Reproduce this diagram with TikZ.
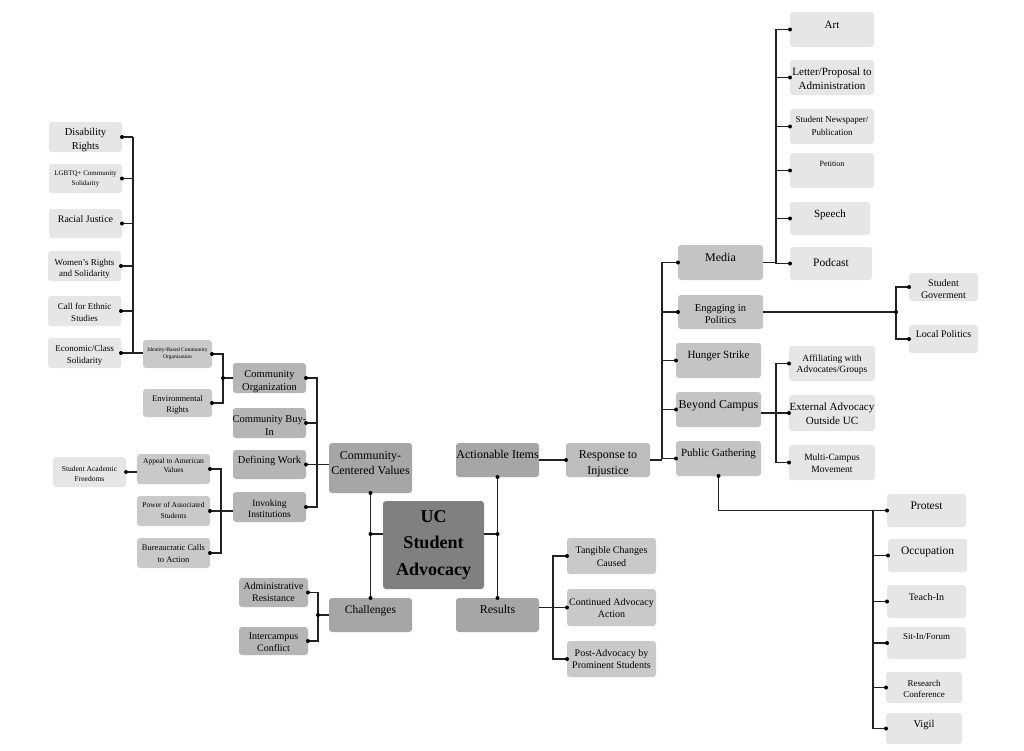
\documentclass[tikz,border=0pt]{standalone}
\usepackage{fontspec}
\setmainfont{Liberation Serif}
\definecolor{cL}{HTML}{E6E6E6}
\definecolor{cT}{HTML}{C9C9C9}
\definecolor{cS}{HTML}{B5B5B5}
\definecolor{cM}{HTML}{C4C4C4}
\definecolor{cR}{HTML}{BDBDBD}
\definecolor{cP}{HTML}{A6A6A6}
\definecolor{cU}{HTML}{808080}
\definecolor{cLine}{HTML}{222222}
\newcommand\fs[2]{\fontsize{#1}{#2}\selectfont}
% #1 style, #2 name, #3 x1, #4 y1, #5 x2, #6 y2, #7 font, #8 text, #9 pad
\newcommand\bx[9]{%
  \node[#1, minimum width={(#5)-(#3)}, minimum height={(#6)-(#4)}] (#2) at ({((#3)+(#5))/2},{((#4)+(#6))/2}) {};
  \node[txt, anchor=north, font=#7] (#2-t) at ([yshift={-(#9+1.8)*1pt}]#2.north) {#8};
}
\begin{document}
\begin{tikzpicture}[x=1pt,y=-1pt,
  box/.style={rectangle, rounded corners=3pt, inner sep=0pt, outer sep=0pt, draw=none},
  lt/.style={box, fill=cL},
  tb/.style={box, fill=cT},
  sb/.style={box, fill=cS},
  mb/.style={box, fill=cM},
  rb/.style={box, fill=cR},
  pb/.style={box, fill=cP},
  ub/.style={box, fill=cU},
  txt/.style={inner sep=0pt, outer sep=0pt, align=center, text=black},
  ln/.style={draw=cLine, line width=1.2pt},
  dotc/.style={fill=black}]
\useasboundingbox (0,0) rectangle (1024,750);
\fill[white] (0,0) rectangle (1024,750);

% ---- left column
\bx{lt}{disab}{49}{122}{122}{152}{\fs{10.5}{14}}{Disability\\Rights}{4}
\bx{lt}{lgbt}{49}{164}{122}{193}{\fs{7}{10}}{LGBTQ+ Community\\Solidarity}{5}
\bx{lt}{racial}{49}{209}{122}{238}{\fs{10}{12}}{Racial Justice}{5}
\bx{lt}{women}{48}{251}{121}{281}{\fs{9}{11.5}}{Women's Rights\\and Solidarity}{6}
\bx{lt}{ethnic}{48}{296}{121}{326}{\fs{9}{12}}{Call for Ethnic\\Studies}{5}
\bx{lt}{econ}{48}{338}{121}{368}{\fs{9}{12}}{Economic/Class\\Solidarity}{5}
\bx{tb}{ident}{143}{340}{212}{368}{\fs{5.5}{7}}{Identity-Based Community\\Organization}{5.5}
\bx{tb}{env}{143}{389}{212}{417}{\fs{8.5}{11}}{Environmental\\Rights}{5}
\bx{sb}{comorg}{233}{363}{306}{393}{\fs{10.5}{13}}{Community\\Organization}{5.5}
\bx{sb}{buyin}{233}{408}{306}{438}{\fs{10.5}{13}}{Community Buy-\\In}{5.5}
\bx{sb}{defining}{233}{450}{306}{479}{\fs{10.5}{13}}{Defining Work}{4.5}
\bx{sb}{invoking}{233}{492}{306}{522}{\fs{9.5}{11}}{Invoking\\Institutions}{6}
\bx{pb}{ccv}{329}{443}{412}{493}{\fs{12}{15}}{Community-\\Centered Values}{6.5}
\bx{tb}{appeal}{137}{454}{210}{484}{\fs{7.5}{9.5}}{Appeal to American\\Values}{2}
\bx{lt}{saf}{53}{457}{126}{487}{\fs{7.5}{10}}{Student Academic\\Freedoms}{7.5}
\bx{tb}{power}{137}{496}{210}{526}{\fs{7.5}{10.5}}{Power of Associated\\Students}{4.6}
\bx{tb}{bureau}{137}{538}{210}{568}{\fs{8.5}{12}}{Bureaucratic Calls\\to Action}{5}
\bx{sb}{admin}{239}{578}{308}{607}{\fs{10}{12.5}}{Administrative\\Resistance}{2.5}
\bx{sb}{inter}{239}{627}{308}{655}{\fs{10}{12}}{Intercampus\\Conflict}{4.5}
\bx{pb}{chal}{329}{598}{412}{632}{\fs{11.5}{14}}{Challenges}{5.8}
% ---- centre
\bx{ub}{uc}{383}{501}{484}{589}{\fs{18}{26.5}\bfseries}{UC\\Student\\Advocacy}{7.5}
\bx{pb}{act}{456}{443}{539}{477}{\fs{12}{14}}{Actionable Items}{5.6}
\bx{pb}{results}{456}{598}{539}{632}{\fs{12}{14}}{Results}{5.6}
\bx{rb}{resp}{566}{443}{650}{477}{\fs{12}{16}}{Response to\\Injustice}{5.6}
\bx{tb}{tang}{567}{538}{656}{574}{\fs{10}{13}}{Tangible Changes\\Caused}{6.5}
\bx{tb}{cont}{567}{589}{656}{626}{\fs{10}{12}}{Continued Advocacy\\Action}{7.5}
\bx{tb}{post}{567}{641}{656}{677}{\fs{10}{12}}{Post-Advocacy by\\Prominent Students}{6.5}
% ---- right
\bx{mb}{media}{678}{245}{763}{280}{\fs{12}{14}}{Media}{6.6}
\bx{mb}{eng}{678}{295}{763}{329}{\fs{10.5}{12.5}}{Engaging in\\Politics}{7.3}
\bx{mb}{hunger}{676}{343}{761}{378}{\fs{11}{13}}{Hunger Strike}{6}
\bx{mb}{beyond}{676}{392}{761}{427}{\fs{12}{14}}{Beyond Campus}{6.6}
\bx{mb}{public}{676}{441}{761}{476}{\fs{11}{13}}{Public Gathering}{6}
\bx{lt}{art}{790}{12}{874}{47}{\fs{11}{13}}{Art}{7}
\bx{lt}{letter}{790}{60}{874}{95}{\fs{11}{14}}{Letter/Proposal to\\Administration}{6}
\bx{lt}{news}{790}{109}{874}{144}{\fs{9}{13}}{Student Newspaper/\\Publication}{5}
\bx{lt}{petition}{790}{153}{874}{188}{\fs{8}{10}}{Petition}{6.4}
\bx{lt}{speech}{790}{202}{870}{235}{\fs{11}{13}}{Speech}{6}
\bx{lt}{podcast}{790}{247}{872}{280}{\fs{11.5}{13}}{Podcast}{9.8}
\bx{lt}{studgov}{909}{273}{978}{301}{\fs{10}{12.5}}{Student\\Goverment}{4.5}
\bx{lt}{local}{909}{325}{978}{353}{\fs{10}{12}}{Local Politics}{3.5}
\bx{lt}{affil}{789}{346}{875}{381}{\fs{9.5}{11.5}}{Affiliating with\\Advocates/Groups}{6.7}
\bx{lt}{ext}{789}{395}{875}{431}{\fs{11}{14}}{External Advocacy\\Outside UC}{6}
\bx{lt}{multi}{789}{445}{875}{480}{\fs{9.5}{12}}{Multi-Campus\\Movement}{6.7}
\bx{lt}{protest}{887}{494}{966}{527}{\fs{11.5}{13}}{Protest}{5.8}
\bx{lt}{occup}{888}{539}{967}{572}{\fs{11.5}{13}}{Occupation}{5.8}
\bx{lt}{teach}{887}{585}{966}{618}{\fs{10}{12}}{Teach-In}{6.5}
\bx{lt}{sitin}{887}{627}{966}{659}{\fs{9}{11}}{Sit-In/Forum}{5}
\bx{lt}{research}{886}{672}{962}{703}{\fs{9}{11.5}}{Research\\Conference}{6}
\bx{lt}{vigil}{886}{713}{962}{744}{\fs{10.5}{12}}{Vigil}{5.3}

% ---- connectors
% G1
\coordinate (b1) at (133,0);
\foreach \c in {disab,lgbt,racial,women,ethnic} \draw[ln] (\c.east) -- (\c.east -| b1);
\draw[ln] (disab.east -| b1) -- (econ.east -| b1);
\draw[ln] (econ.east) -- (econ.east -| ident.west);
\foreach \c in {disab,lgbt,racial,women,ethnic,econ} \fill[dotc] (\c.east) circle[radius=2pt];
% G2
\coordinate (b2) at (223,0);
\draw[ln] (comorg.west) -- (comorg.west -| b2);
\draw[ln] (ident.east) -| (b2 |- env.east) -- (env.east);
\fill[dotc] (ident.east) circle[radius=2pt] (env.east) circle[radius=2pt] (comorg.west -| b2) circle[radius=2pt];
% G3
\coordinate (b3) at (317,0);
\draw[ln] (comorg.east) -| (b3 |- invoking.east) -- (invoking.east);
\draw[ln] (buyin.east) -- (buyin.east -| b3);
\draw[ln] (defining.east) -- (defining.east -| ccv.west);
\foreach \c in {comorg,buyin,defining,invoking} \fill[dotc] (\c.east) circle[radius=2pt];
% G4
\coordinate (b4) at (221,0);
\draw[ln] (appeal.east) -| (b4 |- bureau.east) -- (bureau.east);
\draw[ln] (power.east) -- (power.east -| invoking.west);
\foreach \c in {appeal,power,bureau} \fill[dotc] (\c.east) circle[radius=2pt];
% G5
\draw[ln] (saf.east) -- (saf.east -| appeal.west);
\fill[dotc] (saf.east) circle[radius=2pt];
% G6
\draw[ln] (ccv.south) -- (chal.north);
\coordinate (ucl) at ([yshift=11pt]uc.west);
\draw[ln] (ucl) -- (ucl -| ccv.south);
\fill[dotc] (ccv.south) circle[radius=2pt] (chal.north) circle[radius=2pt] (ucl -| ccv.south) circle[radius=2pt];
% G7
\coordinate (b7) at (318,0);
\draw[ln] (admin.east) -| (b7 |- inter.east) -- (inter.east);
\draw[ln] (chal.west) -- (chal.west -| b7);
\fill[dotc] (admin.east) circle[radius=2pt] (inter.east) circle[radius=2pt] (chal.west -| b7) circle[radius=2pt];
% G8
\draw[ln] (act.south) -- (results.north);
\coordinate (ucr) at ([yshift=11pt]uc.east);
\draw[ln] (ucr) -- (ucr -| act.south);
\fill[dotc] (act.south) circle[radius=2pt] (results.north) circle[radius=2pt] (ucr -| act.south) circle[radius=2pt];
% G9
\draw[ln] (act.east) -- (resp.west);
\fill[dotc] (resp.west) circle[radius=2pt];
% G10
\coordinate (b10) at (553,0);
\draw[ln] (tang.west) -| (b10 |- post.west) -- (post.west);
\draw[ln] (cont.west) -- (cont.west -| results.east);
\foreach \c in {tang,cont,post} \fill[dotc] (\c.west) circle[radius=2pt];
% G11
\coordinate (b11) at (662,0);
\draw[ln] (media.west) -| (b11 |- public.west) -- (public.west);
\foreach \c in {eng,hunger,beyond} \draw[ln] (\c.west) -- (\c.west -| b11);
\draw[ln] (resp.east) -- (resp.east -| b11);
\foreach \c in {media,eng,hunger,beyond,public} \fill[dotc] (\c.west) circle[radius=2pt];
% G12
\coordinate (b12) at (776,0);
\draw[ln] (art.west) -| (b12 |- podcast.west) -- (podcast.west);
\foreach \c in {letter,news,petition,speech} \draw[ln] (\c.west) -- (\c.west -| b12);
\draw[ln] (media.east) -- (media.east -| b12);
\foreach \c in {art,letter,news,petition,speech,podcast} \fill[dotc] (\c.west) circle[radius=2pt];
% G13
\coordinate (b13) at (896,0);
\draw[ln] (studgov.west) -| (b13 |- local.west) -- (local.west);
\draw[ln] (eng.east) -- (eng.east -| b13);
\fill[dotc] (studgov.west) circle[radius=2pt] (local.west) circle[radius=2pt] (eng.east -| b13) circle[radius=2pt];
% G14
\draw[ln] (affil.west) -| (b12 |- multi.west) -- (multi.west);
\draw[ln] (ext.west) -- (ext.west -| beyond.east);
\foreach \c in {affil,ext,multi} \fill[dotc] (\c.west) circle[radius=2pt];
% G15
\coordinate (b15) at (873,0);
\draw[ln] (public.south) |- (protest.west);
\draw[ln] (b15 |- protest.west) -- (b15 |- vigil.west);
\foreach \c in {occup,teach,sitin,research,vigil} \draw[ln] (\c.west) -- (\c.west -| b15);
\fill[dotc] (public.south) circle[radius=2pt];
\foreach \c in {protest,occup,teach,sitin,research,vigil} \fill[dotc] (\c.west) circle[radius=2pt];
\end{tikzpicture}
\end{document}
